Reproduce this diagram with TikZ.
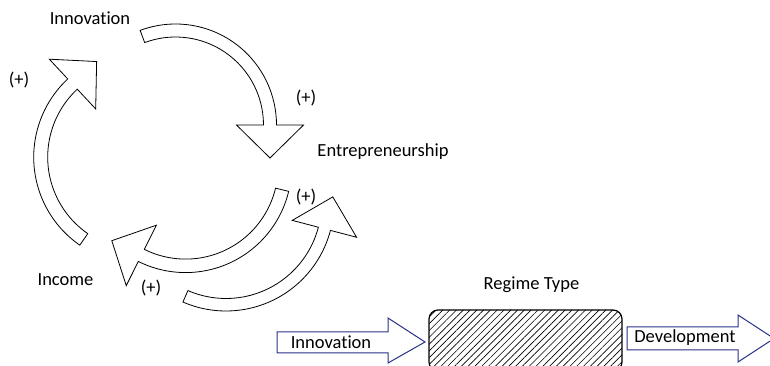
\documentclass[tikz,border=0pt]{standalone}
\usepackage{fontspec}
\setmainfont{Carlito}[RawFeature=-liga]
\usetikzlibrary{calc,patterns.meta}

\definecolor{arrowblue}{RGB}{40,50,135}

% curved block arrow: #1 centre, #2 start angle, #3 end angle,
% #4 inner radius, #5 outer radius, #6 turn of the tip (+90 ccw, -90 cw), #7 head length
\newcommand{\bendarrow}[7]{%
  \pgfmathsetmacro\bRmid{(#4+#5)/2}%
  \pgfmathsetmacro\bRin{#4-27}%
  \pgfmathsetmacro\bRout{#5+27}%
  \pgfmathsetmacro\bTip{#3+#6}%
  \path[bendstyle] ($(#1)+(#2:#5pt)$) arc[start angle=#2,end angle=#3,radius=#5pt]
    -- ($(#1)+(#3:\bRout pt)$)
    -- ($(#1)+(#3:\bRmid pt)+(\bTip:#7pt)$)
    -- ($(#1)+(#3:\bRin pt)$)
    -- ($(#1)+(#3:#4pt)$) arc[start angle=#3,end angle=#2,radius=#4pt]
    -- cycle;%
}

\tikzset{
  bendstyle/.style={draw=black,fill=white,line width=0.8pt,line join=miter},
  flowarrow/.style={draw=arrowblue,fill=white,line width=1pt},
  lbl/.style={inner sep=0pt,font=\fontsize{18.5}{22}\selectfont,text=black},
  regime/.style={draw=black,line width=1.2pt,rounded corners=9pt,
    pattern={Lines[angle=45,distance=4.8pt,line width=0.65pt]},pattern color=black},
}

\begin{document}
\begin{tikzpicture}[x=1pt,y=1pt]
  \useasboundingbox (0,0) rectangle (770,366);
  \clip (0,0) rectangle (770,366);

  % cycle of curved arrows
  \coordinate (c1) at (175.5,241);
  \coordinate (c2) at (140.7,208.8);
  \coordinate (c3) at (185.6,199.4);
  \coordinate (c4) at (226,163);
  \bendarrow{c1}{110.5}{0}{88}{101}{-90}{33}
  \bendarrow{c2}{235.3}{133}{93}{107}{-90}{33}
  \bendarrow{c3}{-13.5}{-116.5}{92.5}{106}{-90}{33}
  \bendarrow{c4}{-113.5}{-14.7}{95.5}{108}{90}{33}

  % labels of the cycle
  \node[lbl] (innov) at (90,348) {Innovation};
  \node[lbl] (entre) at (383,214) {Entrepreneurship};
  \node[lbl] (income) at (65.5,86) {Income};
  \node[lbl] (p1) at (19,286) {(+)};
  \node[lbl] (p2) at (306,268) {(+)};
  \node[lbl] (p3) at (306,169) {(+)};
  \node[lbl] (p4) at (151,78) {(+)};

  % regime box with input and output
  \path[regime] (429,56) rectangle (622,-5);
  \node[lbl] (regt) at (531.5,81) {Regime Type};

  \path[flowarrow] (277,34) -- (388,34) -- (388,48) -- (425,24) -- (388,3) -- (388,13) -- (277,13) -- cycle;
  \node[lbl] (inin) at (331,24) {Innovation};

  \path[flowarrow] (627,39) -- (738,39) -- (738,51) -- (774,27.5) -- (738,4) -- (738,16) -- (627,16) -- cycle;
  \node[lbl] (dev) at (685,28) {Development};
\end{tikzpicture}
\end{document}
